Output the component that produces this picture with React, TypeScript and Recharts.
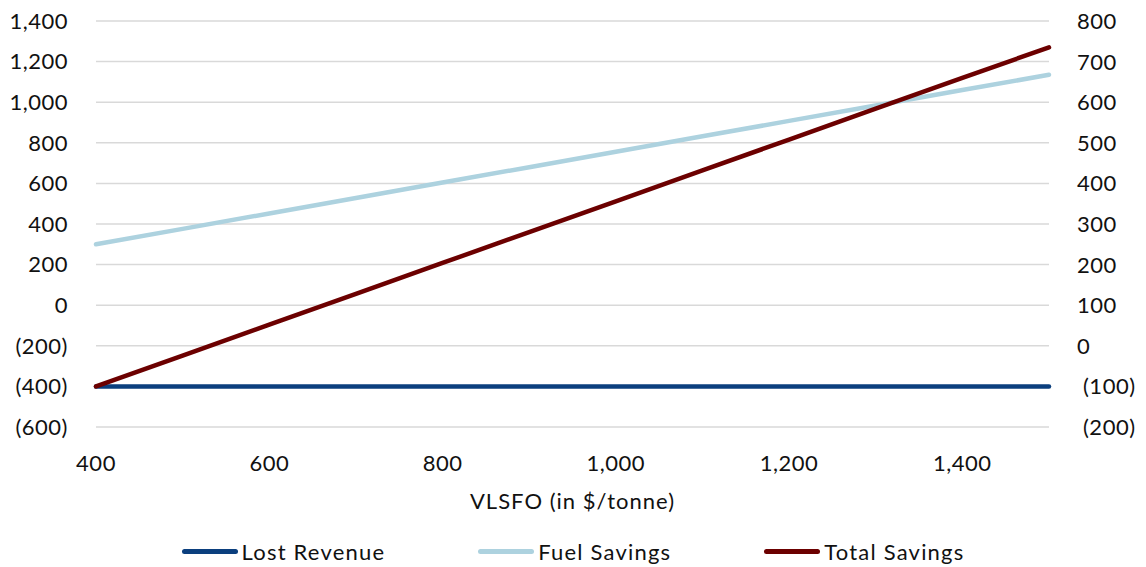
import React from 'react';
import {
    LineChart,
    Line,
    XAxis,
    YAxis,
    CartesianGrid,
    Legend,
} from 'recharts';

// VLSFO price ($/tonne) on the x axis
const vlsfo = [400, 500, 600, 700, 800, 900, 1000, 1100, 1200, 1300, 1400, 1500];
// left axis
const lostRevenue = [-400, -400, -400, -400, -400, -400, -400, -400, -400, -400, -400, -400];
const fuelSavings = [300, 376, 452, 528, 604, 680, 756, 832, 908, 984, 1060, 1135];
// right axis
const totalSavings = [-100, -24, 52, 128, 204, 280, 356, 432, 508, 584, 660, 735];

const xTicks = [400, 600, 800, 1000, 1200, 1400];
const leftTicks = [-600, -400, -200, 0, 200, 400, 600, 800, 1000, 1200, 1400];
const rightTicks = [-200, -100, 0, 100, 200, 300, 400, 500, 600, 700, 800];

const SERIES = [
    { key: 'lost', name: 'Lost Revenue', color: '#0B3F7E', axis: 'left' },
    { key: 'fuel', name: 'Fuel Savings', color: '#ADD2DF', axis: 'left' },
    { key: 'total', name: 'Total Savings', color: '#6C0000', axis: 'right' },
];

const FONT = 'Lato, "Noto Sans", sans-serif';
const TEXT = '#111111';

const data = vlsfo.map((x, i) => ({
    x,
    lost: lostRevenue[i],
    fuel: fuelSavings[i],
    total: totalSavings[i],
}));

const fmt = (v: number) => {
    const s = Math.abs(v).toLocaleString('en-US');
    return v < 0 ? `(${s})` : s;
};

const tickStyle = { fill: TEXT, fontSize: 22, fontFamily: FONT, letterSpacing: 0.5 };

// right axis labels are left aligned, negatives nudged right like Excel's "_)" padding
const RightTick = (props: any) => {
    const { x, y, payload } = props;
    const v = payload.value as number;
    return (
        <text
            x={x + (v < 0 ? 6 : 0)}
            y={y}
            dy="0.36em"
            textAnchor="start"
            fill={TEXT}
            fontSize={22}
            fontFamily={FONT}
            letterSpacing={0.5}
        >
            {fmt(v)}
        </text>
    );
};

const LegendContent = () => (
    <div
        style={{
            display: 'flex',
            justifyContent: 'center',
            gap: '93px',
            height: '32px',
            alignItems: 'center',
            fontFamily: FONT,
            fontSize: '22px',
            letterSpacing: '1.2px',
            color: TEXT,
        }}
    >
        {SERIES.map((s) => (
            <span key={s.key} style={{ display: 'flex', alignItems: 'center', gap: '4px' }}>
                <span
                    style={{
                        width: '56px',
                        height: '5px',
                        borderRadius: '3px',
                        backgroundColor: s.color,
                    }}
                />
                {s.name}
            </span>
        ))}
    </div>
);

export default function App() {
    return (
        <div style={{ position: 'absolute', left: 0, top: 0, width: 1146, height: 567, background: '#fff' }}>
            <LineChart
                width={1146}
                height={567}
                data={data}
                margin={{ top: 21, right: 0, bottom: 18, left: 0 }}
            >
                <CartesianGrid
                    yAxisId="left"
                    vertical={false}
                    stroke="#D9D9D9"
                    strokeWidth={1.5}
                />
                <XAxis
                    dataKey="x"
                    type="number"
                    domain={[400, 1500]}
                    ticks={xTicks}
                    tickFormatter={fmt}
                    axisLine={false}
                    tickLine={false}
                    tickSize={0}
                    tickMargin={28}
                    height={90}
                    tick={tickStyle}
                    label={{
                        value: 'VLSFO (in $/tonne)',
                        position: 'insideBottom',
                        offset: 8,
                        fill: TEXT,
                        fontSize: 22,
                        fontFamily: FONT,
                        letterSpacing: 1,
                    }}
                />
                <YAxis
                    yAxisId="left"
                    orientation="left"
                    domain={[-600, 1400]}
                    ticks={leftTicks}
                    tickFormatter={fmt}
                    axisLine={false}
                    tickLine={false}
                    tickSize={0}
                    tickMargin={28}
                    width={96}
                    tick={tickStyle}
                />
                <YAxis
                    yAxisId="right"
                    orientation="right"
                    domain={[-200, 800]}
                    ticks={rightTicks}
                    axisLine={false}
                    tickLine={false}
                    tickSize={0}
                    tickMargin={28}
                    width={97}
                    tick={<RightTick />}
                />
                <Legend
                    verticalAlign="bottom"
                    content={<LegendContent />}
                    wrapperStyle={{ position: 'absolute', left: 0, top: 535, width: 1146 }}
                />
                {SERIES.map((s) => (
                    <Line
                        key={s.key}
                        yAxisId={s.axis}
                        dataKey={s.key}
                        name={s.name}
                        type="linear"
                        stroke={s.color}
                        strokeWidth={4.5}
                        strokeLinecap="round"
                        dot={false}
                        activeDot={false}
                        isAnimationActive={false}
                    />
                ))}
            </LineChart>
        </div>
    );
}
